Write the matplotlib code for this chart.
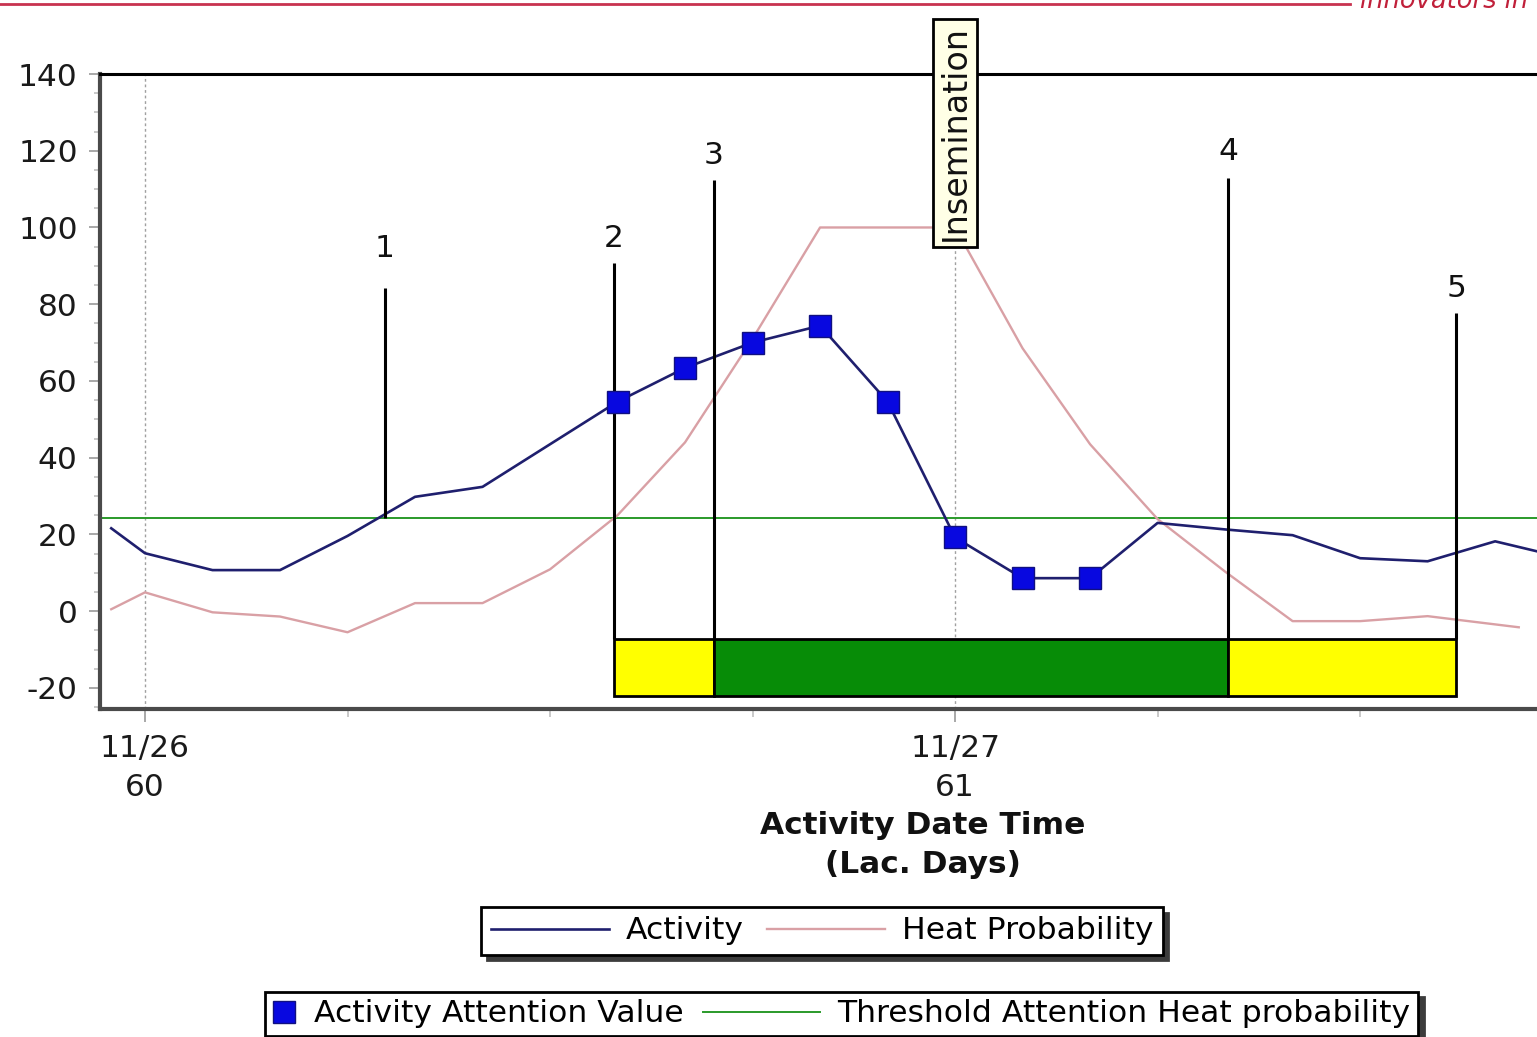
import matplotlib
matplotlib.use('Agg')
import matplotlib.pyplot as plt
import numpy as np
from matplotlib.lines import Line2D
from matplotlib.legend_handler import HandlerBase
from matplotlib.ticker import MultipleLocator

plt.rcParams['font.family'] = ['DejaVu Sans']
plt.rcParams['axes.unicode_minus'] = False
FS = 22.5

# ---------------- data (hours since 11/26 00:00) ----------------
hours = [-1, 0, 2, 4, 6, 8, 10, 12, 14, 16, 18, 20, 22, 24, 26, 28, 30, 32, 34, 36, 38, 40, 42]
activity = [21.6, 15.1, 10.7, 10.7, 19.6, 29.8, 32.4, 43.5, 54.6, 63.4, 70.0, 74.4, 54.6,
             19.2, 8.6, 8.6, 23.0, 21.3, 19.8, 13.8, 13.0, 18.2, 14.0]

heat_hours = [-1, 0, 2, 4, 6, 8, 10, 12, 14, 16, 18, 20, 22, 24, 26, 28, 30, 32, 34, 36, 38, 40.7]
heat = [0.5, 4.9, -0.3, -1.4, -5.5, 2.1, 2.1, 10.9, 25.0, 44.0, 71.0, 100.0, 100.0, 100.0,
        68.5, 43.5, 24.0, 10.3, -2.6, -2.6, -1.3, -4.2]

attention_hours = [14, 16, 18, 20, 22, 24, 26, 28]
attention_values = [54.6, 63.4, 70.0, 74.4, 54.6, 19.2, 8.6, 8.6]

threshold = 24.3

event_numbers = [1, 2, 3, 4, 5]
event_hours = [7.1, 13.9, 16.85, 32.1, 38.85]
event_top = [84.2, 90.7, 112.3, 112.8, 77.7]
event_bottom = [24.4, -7.3, -7.3, -7.3, -7.3]
event_label_y = [94.6, 97.1, 118.8, 119.8, 84.2]

bar_colors = ['#ffff00', '#078c07', '#ffff00']
bar_top, bar_bottom = -7.3, -22.1

insemination_hour = 24
insemination_y = 95

xtick_hours = [0, 24]
xtick_labels = ['11/26\n60', '11/27\n61']
yticks = list(range(-20, 141, 20))

# ---------------- figure ----------------
W, H = 1537, 1037
fig = plt.figure(figsize=(W / 100, H / 100), dpi=100)
ax = fig.add_axes([100 / W, 1 - 709 / H, 1 - 100 / W, (709 - 74) / H])
ax.set_xlim(-1.333, 41.24)
ax.set_ylim(-25.5, 140)

ax.grid(axis='x', which='major', color='#a0a0a0', ls=(0, (2, 2)), lw=1, zorder=1)

thr = ax.axhline(threshold, color='#2a9a2a', lw=1.4, label='Threshold Attention Heat probability', zorder=2)
heat_line, = ax.plot(heat_hours, heat, color='#d9a0a5', lw=1.7, label='Heat Probability', zorder=3)
act_line, = ax.plot(hours, activity, color='#1f1f6e', lw=1.9, label='Activity', zorder=4)
att, = ax.plot(attention_hours, attention_values, ls='none', marker='s', ms=16,
               mfc='#0808e0', mec='#101080', mew=1, label='Activity Attention Value', zorder=6)

ax.vlines(event_hours, event_bottom, event_top, colors='black', lw=2.2, zorder=5)
for n, h, y in zip(event_numbers, event_hours, event_label_y):
    ax.text(h, y, str(n), ha='center', va='center', fontsize=FS, color='#111111', zorder=6)

starts = event_hours[1:4]
widths = [e - s for s, e in zip(event_hours[1:4], event_hours[2:5])]
ax.barh((bar_top + bar_bottom) / 2, widths, left=starts, height=bar_top - bar_bottom,
        color=bar_colors, edgecolor='black', lw=2, zorder=5)

ax.text(insemination_hour, insemination_y + 1.5, 'Insemination', rotation=90, ha='center', va='bottom',
        fontsize=24, color='#111111', clip_on=False, zorder=8,
        bbox=dict(boxstyle='square,pad=0.17', facecolor='#ffffe6', edgecolor='black', lw=2))

# spines
ax.spines['right'].set_visible(False)
ax.spines['top'].set_color('black')
ax.spines['top'].set_linewidth(2.2)
for s in ('left', 'bottom'):
    ax.spines[s].set_color('#4a4a4a')
    ax.spines[s].set_linewidth(3)

# ticks
ax.set_yticks(yticks)
ax.yaxis.set_minor_locator(MultipleLocator(5))
ax.tick_params(axis='y', which='major', length=8, width=1.2, color='#9a9a9a', labelsize=FS,
               pad=8, labelcolor='#1a1a1a')
ax.tick_params(axis='y', which='minor', length=4, width=1.2, color='#c0c0c0')
ax.set_xticks(xtick_hours)
ax.set_xticklabels(xtick_labels)
for lbl in ax.get_xticklabels():
    lbl.set_linespacing(1.42)
ax.xaxis.set_minor_locator(MultipleLocator(6))
ax.tick_params(axis='x', which='major', length=9, width=1.2, color='#9a9a9a', labelsize=FS,
               pad=9, labelcolor='#1a1a1a')
ax.tick_params(axis='x', which='minor', length=6, width=1.2, color='#c0c0c0')

ax.set_xlabel('Activity Date Time\n(Lac. Days)', fontsize=FS, fontweight='bold', linespacing=1.42,
              color='#111111')
ax.xaxis.set_label_coords((923 - 100) / (W - 100), -(811 - 709) / (709 - 74))


# legends
class ExtendedLine(HandlerBase):
    def __init__(self, extra):
        super().__init__()
        self.extra = extra

    def create_artists(self, legend, orig_handle, xdescent, ydescent, width, height, fontsize, trans):
        y = (height - ydescent) / 2
        line = Line2D([-xdescent - self.extra, width - xdescent], [y, y],
                      color=orig_handle.get_color(), lw=orig_handle.get_linewidth(), transform=trans)
        return [line]


LFS = 22.6
shadow = {'ox': 4, 'oy': -4, 'color': '#3c3c3c', 'alpha': 1}
leg1 = fig.legend(handles=[act_line, heat_line], loc='center', bbox_to_anchor=(822 / W, 1 - 931 / H),
                  ncol=2, fontsize=LFS, frameon=True, fancybox=False, edgecolor='black', framealpha=1,
                  shadow=shadow, handlelength=3.76, handletextpad=0.54, columnspacing=0.73,
                  borderpad=0.3, borderaxespad=0)
leg1.get_frame().set_linewidth(2)

leg2 = fig.legend(handles=[att, thr], loc='center', bbox_to_anchor=(841.5 / W, 1 - 1014 / H),
                  ncol=2, fontsize=LFS, frameon=True, fancybox=False, edgecolor='black', framealpha=1,
                  shadow=shadow, handlelength=0.76, handletextpad=0.57, columnspacing=3.57,
                  borderpad=0.25, borderaxespad=0, numpoints=1,
                  handler_map={thr: ExtendedLine(67)})
leg2.get_frame().set_linewidth(2)

# page header remnants
fig.add_artist(Line2D([0, 1350 / W], [1 - 4 / H, 1 - 4 / H], transform=fig.transFigure,
                      color='#c8324f', lw=2))
fig.text(1360 / W, 1 - 8 / H, 'innovators in', color='#c0203a', style='italic', fontsize=18.5,
         va='baseline')

fig.savefig('out.png', dpi=100)
